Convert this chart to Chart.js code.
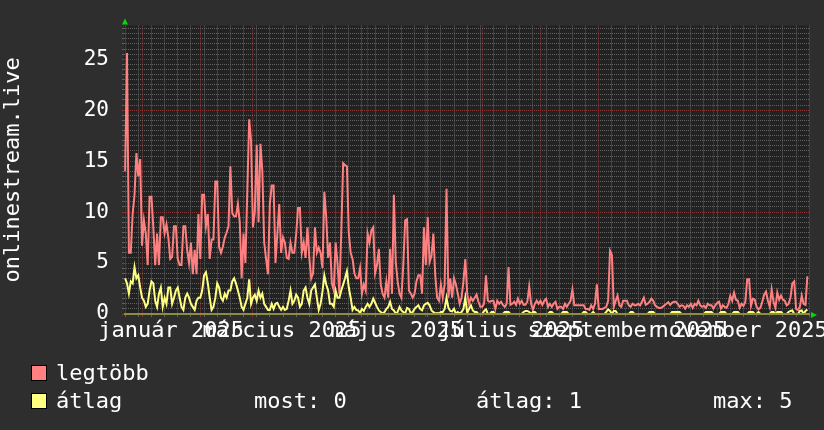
<!DOCTYPE html>
<html>
<head>
<meta charset="utf-8">
<script src="https://cdn.jsdelivr.net/npm/chart.js@4.4.1/dist/chart.umd.min.js"></script>
<style>
  html, body { margin: 0; padding: 0; background: #2e2e2e; }
  #wrap { position: relative; width: 824px; height: 430px; overflow: hidden; }
  #chart { position: absolute; left: 0; top: 0; }
  .leg { position: absolute; font: 22px "DejaVu Sans Mono", monospace; line-height: 22px; color: #ffffff; white-space: pre; }
  .sw { position: absolute; width: 14px; height: 14px; border: 1px solid #000; }
</style>
</head>
<body>
<div id="wrap">
  <canvas id="chart" width="824" height="430"></canvas>
  <div class="sw" style="left:31px;top:365px;background:#ff8080"></div>
  <div class="leg" style="left:56px;top:362px">legtöbb</div>
  <div class="sw" style="left:31px;top:393px;background:#ffff80"></div>
  <div class="leg" style="left:56px;top:390px">átlag</div>
  <div class="leg" style="left:254px;top:390px">most: 0</div>
  <div class="leg" style="left:476px;top:390px">átlag: 1</div>
  <div class="leg" style="left:713px;top:390px">max: 5</div>
</div>
<script>
// one value per day, index 0 = 2024-12-23 (Monday)
const legtobb = [
  14, 25.6, 6, 6, 9.8, 11.7, 15.8, 13.5, 15.2,
  6.7, 9.2, 7.9, 4.8, 11.5, 11.5, 8.5, 4.8, 7.9, 4.8,
  9.5, 9.5, 7.9, 8.8, 7.5, 5.4, 5.6, 8.6, 8.6, 5.4,
  4.8, 4.8, 8.6, 8.6, 6.3, 5, 7, 3.9, 6.3, 3.9,
  9.8, 5.4, 11.7, 11.7, 8.6, 9.8, 5.4, 7.3, 7.3, 13,
  13, 6.6, 6, 6.6, 7.5, 8, 8.6, 14.5, 9.9, 9.6,
  9.6, 10.8, 9, 3.5, 7.9, 5, 12, 19.1, 17, 8.5,
  10, 16.6, 9, 16.7, 14, 7, 5.4, 3.9, 10.8, 12.6,
  12.6, 5, 7.9, 10.8, 6, 7.5, 7, 5.5, 5.4, 7,
  6, 6, 7.8, 10.4, 10.4, 6, 7, 5.5, 8.5, 5.5,
  3.5, 4, 8.5, 6, 6.5, 6, 4.5, 12, 9.5, 5.5,
  7, 3, 2.3, 7, 5, 2, 8, 14.8, 14.6, 14.5,
  8, 6, 5.4, 4, 3.5, 3.5, 4.5, 2, 2.9, 2.3,
  7.9, 7, 8.2, 8.5, 4, 4.8, 6.4, 2.9, 2, 1.6,
  3.2, 1.6, 6.4, 2, 11.7, 5.1, 3.2, 2, 1.6, 4.8,
  9.2, 9.3, 2.3, 2, 1.6, 2, 3.2, 3.8, 3.8, 2,
  8.5, 4.8, 9.5, 5.1, 5.7, 7.9, 3.8, 1.6, 1.3, 2.9,
  1.6, 2.9, 12.3, 1.6, 3.5, 1.6, 3.5, 2.9, 2, 1,
  1.6, 3.2, 5.4, 2, 1, 1.6, 1.3, 1.6, 1.9, 1.2,
  0.7, 0.7, 1, 3.8, 1.3, 1.2, 1.3, 1.3, 0.5, 1.3,
  1, 1.2, 0.9, 0.7, 1, 4.6, 0.9, 1, 1.2, 0.9,
  1.5, 1, 1.3, 0.9, 0.9, 1.2, 2.7, 1, 0.4, 1,
  1.3, 1, 1.3, 0.9, 1.3, 1.5, 0.7, 1, 0.7, 1,
  1.2, 0.5, 0.7, 0.7, 0.5, 1, 0.7, 1, 1.3, 2.4,
  0.85, 0.85, 0.85, 0.85, 0.85, 0.85, 0.5, 0.5, 0.4, 0.85,
  0.5, 1, 2.9, 0.5, 0.5, 0.5, 0.6, 0.7, 1.3, 6.2,
  5.8, 0.7, 1.3, 1.8, 0.85, 0.7, 1.3, 1.3, 1.3, 0.85,
  0.7, 1, 0.85, 0.85, 1, 0.85, 1.2, 1.6, 0.9, 1,
  1.2, 1.5, 1.3, 0.85, 0.7, 0.6, 0.6, 0.7, 0.85, 1,
  1.16, 0.9, 1.1, 1.2, 1.2, 1, 0.7, 0.85, 0.8, 0.53,
  0.85, 0.7, 1, 0.6, 1, 0.85, 1.3, 0.85, 0.7, 0.8,
  0.6, 1, 0.85, 0.85, 0.53, 0.85, 1.1, 1.2, 0.53, 0.85,
  0.7, 0.6, 1, 1.8, 1.3, 2.1, 1.4, 1.3, 0.6, 1,
  0.8, 1.2, 3.4, 3.4, 0.8, 1.5, 1.4, 0.7, 0.45, 0.6,
  1.2, 1.9, 2.2, 1.3, 0.7, 2.4, 1.2, 0.6, 2.1, 1.4,
  1.8, 1.4, 1.3, 0.85, 1, 1.6, 3, 3.2, 0.5, 0.4,
  0.7, 1.8, 1, 0.9, 3.7
];

const atlag = [
  3.5, 3.0, 2.0, 3.2, 3.0, 4.6, 3.5, 3.8, 2.6,
  1.6, 1.3, 0.7, 1.0, 2.3, 3.2, 3.0, 1.3, 0.7, 2.0,
  2.6, 0.7, 1.6, 1.0, 2.6, 2.6, 1.0, 1.6, 2.3, 2.6,
  1.6, 0.7, 0.4, 1.6, 2.0, 1.6, 1.0, 0.7, 0.4, 1.3,
  1.6, 1.6, 2.3, 3.8, 4.1, 3.0, 1.6, 0.4, 0.7, 1.6,
  3.0, 2.6, 1.6, 1.3, 2.0, 1.6, 2.3, 2.3, 3.2, 3.5,
  3.0, 2.3, 1.6, 0.7, 0.4, 1.0, 1.6, 3.4, 1.0, 1.6,
  1.9, 1.3, 2.3, 1.6, 2.0, 1.0, 0.7, 0.4, 0.4, 1.0,
  0.5, 1.0, 1.1, 0.7, 0.4, 0.7, 0.4, 0.5, 1.3, 2.3,
  1.0, 1.3, 1.9, 1.6, 0.7, 1.0, 2.3, 2.6, 1.6, 1.0,
  2.3, 2.6, 2.9, 1.6, 0.4, 1.0, 2.2, 3.8, 2.9, 2.3,
  1.0, 1.0, 0.7, 2.3, 1.6, 1.6, 2.3, 2.9, 3.5, 4.2,
  2.6, 1.6, 0.4, 0.7, 0.4, 0.35, 0.1, 0.5, 0.3, 0.7,
  1.0, 0.7, 1.0, 1.5, 1.1, 0.7, 0.35, 0.2, 0.05, 0.2,
  0.5, 0.7, 1.2, 0.5, 0.35, 0.05, 0.2, 0.7, 0.35, 0.2,
  0.05, 0.6, 0.5, 0.05, 0.2, 0.5, 0.7, 0.85, 0.5, 0.35,
  0.85, 1.0, 1.1, 0.85, 0.35, 0.2, 0.05, 0.1, 0.05, 0.2,
  0.2, 0.5, 1.6, 0.6, 0.3, 0.25, 0.5, 0.03, 0.2, 0.05,
  0.2, 0.5, 1.6, 0.1, 0.5, 0.85, 0.35, 0.2, 0.2, 0,
  0, 0, 0.3, 0.45, 0, 0, 0.2, 0.2, 0, 0,
  0, 0, 0, 0.2, 0.2, 0.2, 0, 0, 0, 0,
  0, 0, 0, 0.2, 0.3, 0.3, 0.2, 0, 0.2, 0.2,
  0, 0, 0, 0, 0, 0, 0, 0.2, 0.2, 0,
  0, 0, 0, 0, 0.2, 0.2, 0.2, 0, 0, 0,
  0, 0, 0, 0, 0, 0.2, 0.2, 0, 0, 0,
  0.2, 0, 0, 0, 0, 0, 0, 0.2, 0.45, 0.3,
  0, 0.3, 0.3, 0, 0, 0, 0, 0, 0, 0,
  0.2, 0.2, 0, 0, 0, 0, 0, 0, 0, 0,
  0.2, 0.2, 0.2, 0, 0, 0, 0, 0, 0, 0,
  0, 0, 0.2, 0.2, 0.2, 0.2, 0.2, 0, 0, 0,
  0, 0, 0, 0, 0, 0, 0, 0, 0, 0,
  0.2, 0.2, 0.2, 0.2, 0, 0, 0, 0, 0.2, 0.2,
  0.2, 0, 0, 0, 0, 0.2, 0.2, 0.2, 0, 0,
  0, 0, 0, 0.2, 0.2, 0.2, 0, 0, 0.2, 0,
  0, 0, 0, 0, 0, 0.2, 0.2, 0, 0.2, 0.2,
  0.2, 0, 0, 0, 0.2, 0.3, 0.35, 0, 0, 0,
  0.3, 0.35, 0, 0.3, 0.45
];

// x axis: day index; month starts get red lines, Mondays grey lines
const monthStarts = [9, 40, 68, 99, 129, 160, 190, 221, 252, 282, 313, 343];
const monthLabels = ['január 2025', 'március 2025', 'május 2025', 'július 2025', 'szeptember 2025', 'november 2025'];
const monthLabelDays = [24.5, 83.5, 144.5, 205.5, 267, 328];
const xMin = -0.6, xMax = 364.4;
const yMax = 28.3;

const minorGrid = '#626262';
const majorGrid = '#8a3434';

const rrdFrame = {
  id: 'rrdFrame',
  beforeDraw(chart) {
    const { ctx, chartArea: a } = chart;
    ctx.save();
    ctx.fillStyle = '#222222';
    ctx.fillRect(a.left, a.top, a.right - a.left, a.bottom - a.top);
    ctx.restore();
  },
  afterDatasetsDraw(chart) {
    const { ctx, chartArea: a } = chart;
    ctx.save();
    ctx.fillStyle = '#8c8c46';
    ctx.fillRect(a.left, a.bottom - 1, a.right - a.left, 2);
    ctx.fillStyle = '#00dd00';
    ctx.beginPath();
    ctx.moveTo(a.left + 1, a.top - 7);
    ctx.lineTo(a.left - 2, a.top - 1);
    ctx.lineTo(a.left + 4, a.top - 1);
    ctx.fill();
    ctx.beginPath();
    ctx.moveTo(a.right + 7, a.bottom + 1);
    ctx.lineTo(a.right + 1, a.bottom - 2);
    ctx.lineTo(a.right + 1, a.bottom + 4);
    ctx.fill();
    ctx.restore();
  }
};

Chart.defaults.font.family = '"DejaVu Sans Mono", monospace';
Chart.defaults.color = '#ffffff';

function xGridColor(ctx) {
  const v = ctx.tick ? ctx.tick.value : null;
  if (monthLabelDays.includes(v)) return 'rgba(0,0,0,0)';
  if (monthStarts.includes(v)) return majorGrid;
  return minorGrid;
}
function yGridColor(ctx) {
  const v = ctx.tick ? ctx.tick.value : 0;
  return v % 5 === 0 ? majorGrid : minorGrid;
}

new Chart(document.getElementById('chart'), {
  type: 'line',
  data: {
    datasets: [
      { label: 'átlag', data: atlag.map((v, i) => ({ x: i, y: v })), borderColor: '#ffff80', borderWidth: 2, pointRadius: 0, tension: 0, order: 1 },
      { label: 'legtöbb', data: legtobb.map((v, i) => ({ x: i, y: v })), borderColor: '#ff8080', borderWidth: 2, pointRadius: 0, tension: 0, order: 2 }
    ]
  },
  options: {
    responsive: false,
    animation: false,
    events: [],
    layout: { padding: { left: 0, top: 14, right: 14, bottom: 86 } },
    plugins: { legend: { display: false }, tooltip: { enabled: false } },
    scales: {
      x: {
        type: 'linear',
        min: xMin,
        max: xMax,
        afterBuildTicks(scale) {
          const vals = new Set();
          for (let d = 0; d <= xMax; d += 7) vals.add(d);
          monthStarts.forEach(v => vals.add(v));
          monthLabelDays.forEach(v => vals.add(v));
          scale.ticks = [...vals].sort((a, b) => a - b).map(v => ({ value: v }));
        },
        afterFit(scale) { scale.height = 30; },
        ticks: {
          autoSkip: false,
          maxRotation: 0,
          minRotation: 0,
          padding: 1,
          color: '#ffffff',
          font: { size: 22 },
          callback(value) {
            const i = monthLabelDays.indexOf(value);
            return i >= 0 ? monthLabels[i] : '';
          }
        },
        grid: { color: xGridColor, tickColor: xGridColor, tickLength: 3, lineWidth: 1 },
        border: { display: false, dash: [1, 1] }
      },
      y: {
        type: 'linear',
        min: 0,
        max: yMax,
        afterBuildTicks(scale) {
          const t = [];
          for (let v = 0; v <= 28; v += 0.5) t.push({ value: v });
          scale.ticks = t;
        },
        afterFit(scale) { scale.width = 124; },
        ticks: {
          autoSkip: false,
          padding: 13,
          color: '#ffffff',
          font: { size: 21 },
          callback(value) { return value % 5 === 0 ? String(value) : ''; }
        },
        grid: { color: yGridColor, tickColor: yGridColor, tickLength: 2, lineWidth: 1 },
        border: { display: false, dash: [1, 1] },
        title: {
          display: true,
          text: 'onlinestream.live',
          color: '#ffffff',
          font: { size: 22 },
          padding: { top: 0, bottom: 0 }
        }
      }
    }
  },
  plugins: [rrdFrame]
});
</script>
</body>
</html>
